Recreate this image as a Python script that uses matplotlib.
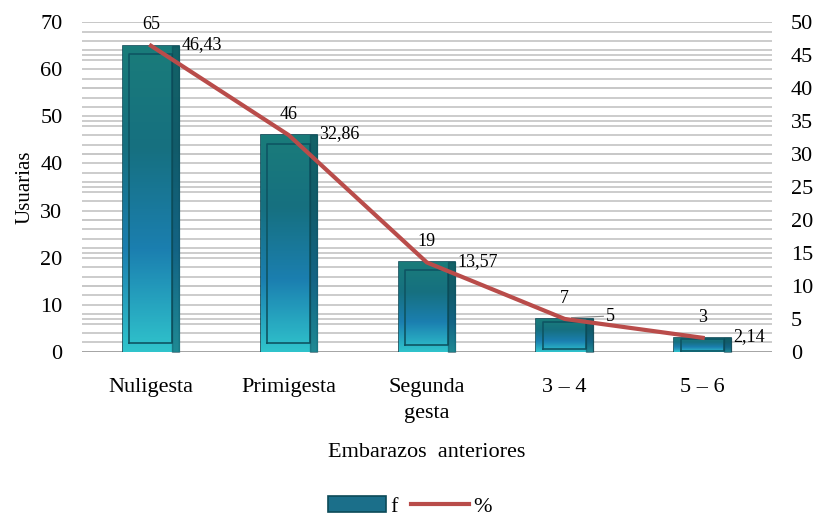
import numpy as np
import matplotlib
matplotlib.use("Agg")
import matplotlib.pyplot as plt
from matplotlib.colors import LinearSegmentedColormap

plt.rcParams['font.family'] = ['Liberation Serif', 'DejaVu Serif']

categories = ["Nuligesta", "Primigesta", "Segunda\ngesta", "3 – 4", "5 – 6"]
freq = [65, 46, 19, 7, 3]
pct = [46.43, 32.86, 13.57, 5, 2.14]
pct_labels = ["46,43", "32,86", "13,57", "5", "2,14"]

fig = plt.figure(figsize=(8.2, 5.16), dpi=100)
ax = fig.add_axes([0.1, 0.318, 0.841, 0.639])
ax2 = ax.twinx()

x = np.arange(len(categories))
width = 0.41

# grid lines (left axis every 2, right axis every 5)
for v in np.arange(0, 71, 2):
    ax.axhline(v, color='#c8c8c8', lw=1.3, zorder=0)
for v in np.arange(0, 51, 5):
    ax.axhline(v * 70 / 50, color='#c8c8c8', lw=1.3, zorder=0)

bars = ax.bar(x, freq, width, color='#1b6f8a', edgecolor='#0c4a58', lw=1.2, zorder=2)

# gradient fill with a bevelled look
cmap = LinearSegmentedColormap.from_list('tb', ['#30c4cc', '#1b7fb0', '#167080', '#1a7c7a'])
grad = np.linspace(0, 1, 256).reshape(-1, 1)
for b in bars:
    bx, by, bw, bh = b.get_x(), b.get_y(), b.get_width(), b.get_height()
    im = ax.imshow(grad, aspect='auto', cmap=cmap, origin='lower',
                   extent=[bx, bx + bw, by, by + bh], zorder=2)
    im.set_clip_path(b)
    inset = bw * 0.12
    dy = min(bh * 0.08, 1.8)
    ax.plot([bx + inset, bx + inset, bx + bw - inset, bx + bw - inset, bx + inset],
            [by + dy, by + bh - dy, by + bh - dy, by + dy, by + dy],
            color='#0e5563', lw=1.2, zorder=3)
    ax.fill_between([bx + bw - inset, bx + bw], by, by + bh, color='#0b4350', alpha=0.45, zorder=3)
    ax.text(bx + bw / 2, bh + 2.6, str(int(bh)), ha='center', va='bottom', fontsize=13, zorder=5)

ax.set_xlim(-0.5, len(categories) - 0.5)
ax.set_ylim(0, 70)
ax.set_yticks(np.arange(0, 71, 10))
ax.set_xticks(x)
ax.set_xticklabels(categories, fontsize=16, va='top', linespacing=1.5)
ax.tick_params(axis='x', length=0, pad=19)
ax.tick_params(axis='y', length=0, labelsize=16, pad=14)
ax.set_ylabel("Usuarias", fontsize=15, labelpad=4)
ax.set_xlabel("Embarazos  anteriores", fontsize=16, labelpad=14)

ax2.plot(x, pct, color='#b94c4a', lw=3, zorder=4)
ax2.set_ylim(0, 50)
ax2.set_yticks(np.arange(0, 51, 5))
ax2.tick_params(axis='y', length=0, labelsize=16, pad=14)
for i, (p, lab) in enumerate(zip(pct, pct_labels)):
    if lab == "5":
        ax2.plot([x[i] + 0.05, x[i] + 0.28], [p + 0.2, p + 0.4], color='#888888', lw=0.8)
        ax2.text(x[i] + 0.3, p + 0.4, lab, ha='left', va='center', fontsize=13)
    else:
        ax2.text(x[i] + 0.22, p + 0.2, lab, ha='left', va='center', fontsize=13, zorder=5)

for a in (ax, ax2):
    for s in a.spines.values():
        s.set_visible(False)
ax.axhline(0, color='#a0a0a0', lw=1.2, zorder=1)

fig.legend(handles=[bars, ax2.lines[0]], labels=['f', '%'], loc='lower center',
           bbox_to_anchor=(0.5, -0.04), ncol=2, frameon=False, fontsize=16,
           handlelength=2.6, columnspacing=0.6, handletextpad=0.2)

fig.savefig("out.png", dpi=100)
